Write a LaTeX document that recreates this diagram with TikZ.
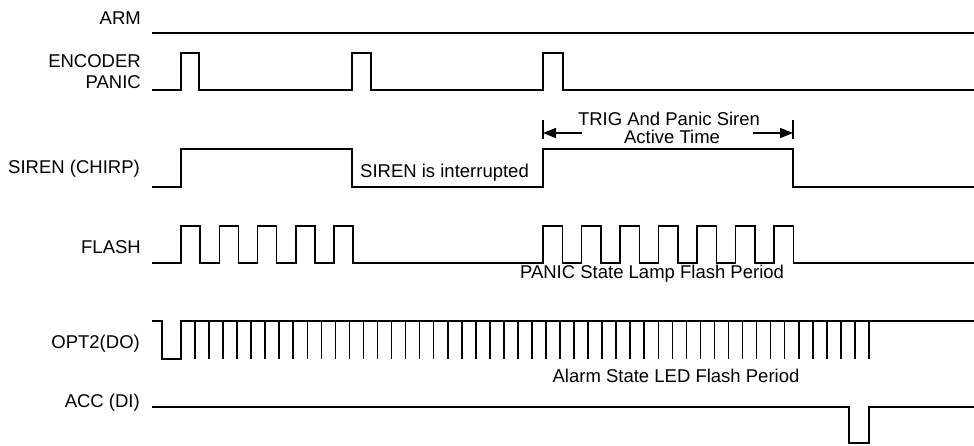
\documentclass[tikz,border=0pt]{standalone}
\usepackage{fontspec}
\setmainfont{Liberation Sans}
\usetikzlibrary{arrows.meta}
\begin{document}
\begin{tikzpicture}[x=1pt,y=-1pt,
  wave/.style={line width=1.6pt, line join=miter},
  lbl/.style={anchor=base east, inner sep=0pt, font=\fontsize{18.5}{20}\selectfont},
  txt/.style={inner sep=0pt, font=\fontsize{18.5}{20}\selectfont},
  dimarrow/.style={line width=1.6pt, -{Triangle[length=13pt,width=10pt]}}]
\useasboundingbox (0,0) rectangle (974,445);
% signal labels
\node[lbl] (arm) at (141,24) {ARM};
\node[lbl] (enc1) at (141,67) {ENCODER};
\node[lbl] (enc2) at (141,88) {PANIC};
\node[lbl] (siren) at (140,173) {SIREN (CHIRP)};
\node[lbl] (flash) at (141,253) {FLASH};
\node[lbl] (opt) at (140,348) {OPT2(DO)};
\node[lbl] (acc) at (140,407) {ACC (DI)};
% annotations
\node[txt, anchor=base west] (intr) at (360,177) {SIREN is interrupted};
\node[txt, anchor=base] (trig1) at (669,125) {TRIG And Panic Siren};
\node[txt, anchor=base] (trig2) at (672,143) {Active Time};
\node[txt, anchor=base] (panicp) at (652,278) {PANIC State Lamp Flash Period};
\node[txt, anchor=base] (alarmp) at (676,382) {Alarm State LED Flash Period};
% ARM
\draw[wave] (152,33) -- (974,33);
% ENCODER PANIC
\draw[wave] (152,90) foreach \a/\b in {181/199,352/371,543/563} { -- (\a,90) -- (\a,53) -- (\b,53) -- (\b,90) } -- (974,90);
% SIREN
\draw[wave] (152,187) -- (181,187) -- (181,149) -- (352,149) -- (352,187) -- (543,187) -- (543,149) -- (793,149) -- (793,187) -- (974,187);
% active time dimension
\coordinate (tL) at (543,133);
\coordinate (tR) at (793,133);
\draw[line width=1.6pt] (543,120) -- (543,139);
\draw[line width=1.6pt] (793,120) -- (793,139);
\draw[dimarrow] (582,133) -- (tL);
\draw[dimarrow] (753,133) -- (tR);
% FLASH
\draw[wave] (152,263)
  foreach \k in {0,...,4} { -- ({181+38.3*\k},263) -- ({181+38.3*\k},226) -- ({200+38.3*\k},226) -- ({200+38.3*\k},263) }
  foreach \k in {0,...,6} { -- ({543+38.5*\k},263) -- ({543+38.5*\k},226) -- ({562.5+38.5*\k},226) -- ({562.5+38.5*\k},263) }
  -- (974,263);
% OPT2(DO)
\draw[wave] (152,321) -- (162,321) -- (162,359) -- (181,359) -- (181,321) -- (974,321);
\foreach \k in {0,...,48} { \draw[line width=1.6pt] ({195+14.04*\k},321) -- ({195+14.04*\k},359); }
% ACC (DI)
\draw[wave] (152,407) -- (849,407) -- (849,443) -- (869,443) -- (869,407) -- (974,407);
\end{tikzpicture}
\end{document}
